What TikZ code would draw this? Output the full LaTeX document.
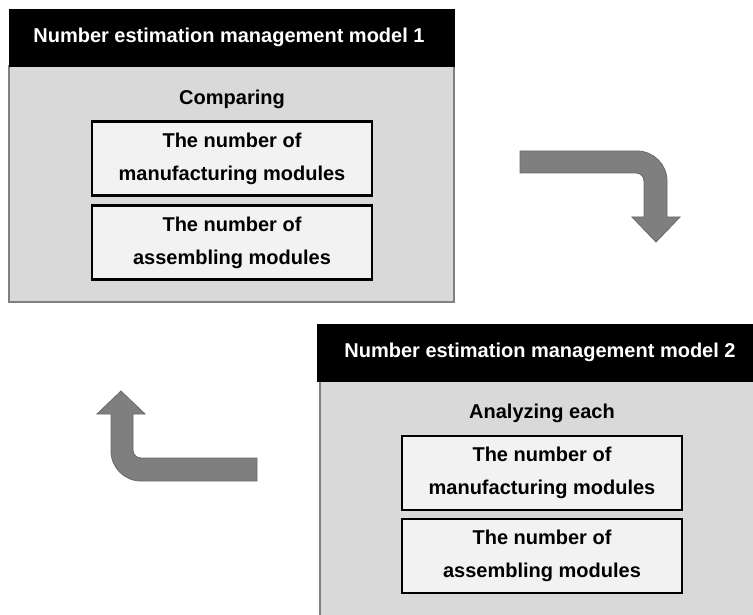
\documentclass[tikz,border=0pt]{standalone}
\usepackage{fontspec}
\setmainfont{Liberation Sans}
\definecolor{bodygray}{HTML}{D9D9D9}
\definecolor{innerfill}{HTML}{F2F2F2}
\definecolor{arrowgray}{HTML}{7F7F7F}
\definecolor{arrowedge}{HTML}{6A6A6A}
\definecolor{bodyedge}{HTML}{808080}
\begin{document}
\begin{tikzpicture}[x=1pt,y=-1pt,
  txt/.style={font=\fontsize{20}{33}\selectfont\bfseries, align=center, inner sep=0pt},
  header/.style={fill=black, draw=black},
  bodybox/.style={fill=bodygray, draw=bodyedge, line width=1.5pt},
  innerbox/.style={txt, draw=black, fill=innerfill, line width=2.2pt, minimum width=280pt, minimum height=74pt},
  bigarrow/.style={fill=arrowgray, draw=arrowedge, line width=0.8pt}]
\useasboundingbox (0,0) rectangle (753,615);
\fill[white] (0,0) rectangle (753,615);
% model 1
\draw[bodybox] (9,66) rectangle (454,302);
\fill[header] (9,9) rectangle (454,66);
\node[txt, text=white] (h1) at (229,37) {Number estimation management model 1};
\node[txt] (c1) at (232,99) {Comparing};
\node[innerbox] (m1) at (232,158.5) {The number of\\manufacturing modules};
\node[innerbox] (a1) at (232,242.5) {The number of\\assembling modules};
% model 2
\draw[bodybox] (320,381) rectangle (760,620);
\fill[header] (317,324) rectangle (760,381);
\node[txt, text=white] (h2) at (540,352) {Number estimation management model 2};
\node[txt] (c2) at (542,413) {Analyzing each};
\node[innerbox] (m2) at (542,473) {The number of\\manufacturing modules};
\node[innerbox] (a2) at (542,556) {The number of\\assembling modules};
% arrows
\draw[bigarrow] (520,151) -- (637,151) .. controls (653.6,151) and (667,164.4) .. (667,181)
  -- (667,217) -- (680,217) -- (656,242) -- (632,217) -- (644,217) -- (644,181)
  .. controls (644,176.6) and (640.4,173) .. (636,173) -- (520,173) -- cycle;
\draw[bigarrow] (257,458) -- (141,458) .. controls (136.6,458) and (133,454.4) .. (133,450)
  -- (133,414) -- (145,414) -- (121,391) -- (97,414) -- (111,414) -- (111,451)
  .. controls (111,467.6) and (124.4,481) .. (141,481) -- (257,481) -- cycle;
\end{tikzpicture}
\end{document}
